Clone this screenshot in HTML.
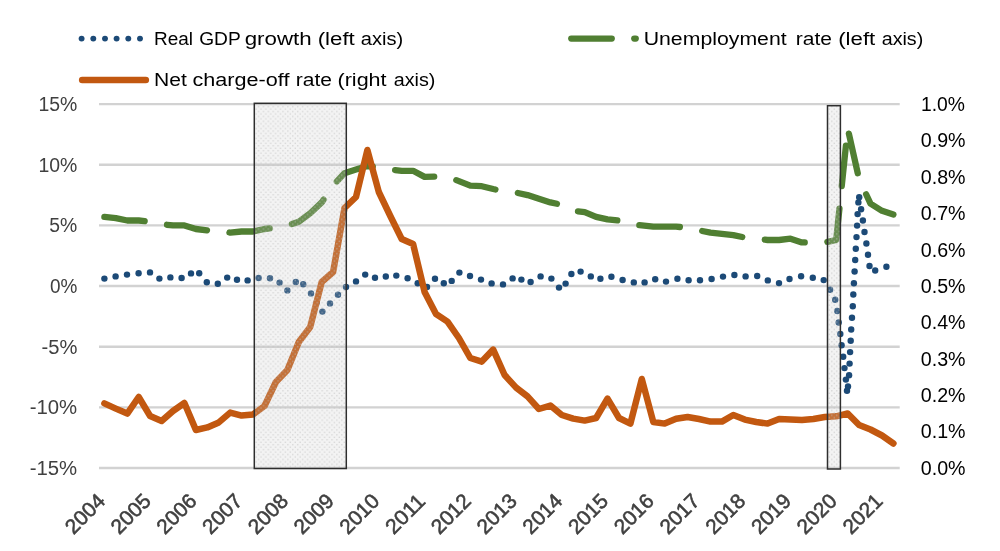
<!DOCTYPE html>
<html lang="en"><head><meta charset="utf-8"><title>Chart</title>
<style>html,body{margin:0;padding:0;background:#fff;}body{width:1000px;height:551px;overflow:hidden;}svg{display:block;}</style></head><body>
<svg width="1000" height="551" viewBox="0 0 1000 551">
<defs><pattern id="pat" width="4.9" height="4.9" patternUnits="userSpaceOnUse"><rect width="4.9" height="4.9" fill="#c8c8c8" fill-opacity="0.22"/><rect x="0.6" y="0.6" width="1.3" height="1.3" fill="#bcbcbc" fill-opacity="0.6"/><rect x="3.05" y="3.05" width="1.3" height="1.3" fill="#bcbcbc" fill-opacity="0.6"/></pattern></defs>
<rect width="1000" height="551" fill="#ffffff"/>
<line x1="99" x2="899.7" y1="104.1" y2="104.1" stroke="#d2d2d2" stroke-width="2.4"/>
<line x1="99" x2="899.7" y1="164.75" y2="164.75" stroke="#d2d2d2" stroke-width="2.4"/>
<line x1="99" x2="899.7" y1="225.4" y2="225.4" stroke="#d2d2d2" stroke-width="2.4"/>
<line x1="99" x2="899.7" y1="286.05" y2="286.05" stroke="#d2d2d2" stroke-width="2.4"/>
<line x1="99" x2="899.7" y1="346.7" y2="346.7" stroke="#d2d2d2" stroke-width="2.4"/>
<line x1="99" x2="899.7" y1="407.35" y2="407.35" stroke="#d2d2d2" stroke-width="2.4"/>
<line x1="99" x2="899.7" y1="468.0" y2="468.0" stroke="#d2d2d2" stroke-width="2.4"/>
<g fill="#1c4a77">
<circle cx="104.4" cy="278.6" r="3.2"/>
<circle cx="115.6" cy="276.4" r="3.2"/>
<circle cx="127" cy="274.6" r="3.2"/>
<circle cx="138.6" cy="273.2" r="3.2"/>
<circle cx="150" cy="272.4" r="3.2"/>
<circle cx="159.4" cy="278.6" r="3.2"/>
<circle cx="170.4" cy="277.4" r="3.2"/>
<circle cx="181.6" cy="278" r="3.2"/>
<circle cx="191" cy="273.4" r="3.2"/>
<circle cx="199.2" cy="273.2" r="3.2"/>
<circle cx="206.8" cy="282.2" r="3.2"/>
<circle cx="217.8" cy="283.8" r="3.2"/>
<circle cx="227.2" cy="277.6" r="3.2"/>
<circle cx="237" cy="279.8" r="3.2"/>
<circle cx="247.6" cy="280.4" r="3.2"/>
<circle cx="258.6" cy="278" r="3.2"/>
<circle cx="270" cy="278.2" r="3.2"/>
<circle cx="279.6" cy="282.6" r="3.2"/>
<circle cx="287.4" cy="290.4" r="3.2"/>
<circle cx="295.8" cy="282" r="3.2"/>
<circle cx="303.2" cy="284.2" r="3.2"/>
<circle cx="311" cy="293.4" r="3.2"/>
<circle cx="316.7" cy="302.5" r="3.2"/>
<circle cx="322.4" cy="311.6" r="3.2"/>
<circle cx="330" cy="303.4" r="3.2"/>
<circle cx="338" cy="294.7" r="3.2"/>
<circle cx="346" cy="287" r="3.2"/>
<circle cx="356" cy="281.4" r="3.2"/>
<circle cx="365.2" cy="274.6" r="3.2"/>
<circle cx="375" cy="277.8" r="3.2"/>
<circle cx="385.8" cy="276.5" r="3.2"/>
<circle cx="396.3" cy="275.6" r="3.2"/>
<circle cx="407.6" cy="278.3" r="3.2"/>
<circle cx="417.7" cy="283.2" r="3.2"/>
<circle cx="427" cy="287" r="3.2"/>
<circle cx="435" cy="278.8" r="3.2"/>
<circle cx="443.8" cy="283.3" r="3.2"/>
<circle cx="451.7" cy="280.9" r="3.2"/>
<circle cx="459.4" cy="272.6" r="3.2"/>
<circle cx="470" cy="276" r="3.2"/>
<circle cx="481" cy="279.6" r="3.2"/>
<circle cx="491.6" cy="283.4" r="3.2"/>
<circle cx="503" cy="284.4" r="3.2"/>
<circle cx="512.6" cy="278.4" r="3.2"/>
<circle cx="521.4" cy="279.6" r="3.2"/>
<circle cx="530.6" cy="282" r="3.2"/>
<circle cx="540.6" cy="276.4" r="3.2"/>
<circle cx="551.4" cy="278.6" r="3.2"/>
<circle cx="559" cy="287.6" r="3.2"/>
<circle cx="565.6" cy="283.6" r="3.2"/>
<circle cx="571.4" cy="274" r="3.2"/>
<circle cx="580.6" cy="271.6" r="3.2"/>
<circle cx="590.8" cy="276.4" r="3.2"/>
<circle cx="600.4" cy="278.7" r="3.2"/>
<circle cx="611.4" cy="276.8" r="3.2"/>
<circle cx="622.6" cy="280" r="3.2"/>
<circle cx="633.8" cy="282.4" r="3.2"/>
<circle cx="644.6" cy="282.4" r="3.2"/>
<circle cx="655.2" cy="279.2" r="3.2"/>
<circle cx="666" cy="281.6" r="3.2"/>
<circle cx="677.4" cy="278.8" r="3.2"/>
<circle cx="688.6" cy="280.2" r="3.2"/>
<circle cx="700" cy="280.2" r="3.2"/>
<circle cx="711.6" cy="279" r="3.2"/>
<circle cx="723" cy="276.6" r="3.2"/>
<circle cx="734.4" cy="275" r="3.2"/>
<circle cx="745.6" cy="276.4" r="3.2"/>
<circle cx="757.2" cy="276" r="3.2"/>
<circle cx="767.8" cy="280.4" r="3.2"/>
<circle cx="779" cy="283.1" r="3.2"/>
<circle cx="789.5" cy="279" r="3.2"/>
<circle cx="801.1" cy="276.3" r="3.2"/>
<circle cx="812.8" cy="277.7" r="3.2"/>
<circle cx="823.7" cy="280.1" r="3.2"/>
<circle cx="830.1" cy="289.7" r="3.2"/>
<circle cx="835.2" cy="299.8" r="3.2"/>
<circle cx="837.3" cy="311" r="3.2"/>
<circle cx="838.7" cy="322.5" r="3.2"/>
<circle cx="840.3" cy="334" r="3.2"/>
<circle cx="841.6" cy="345.2" r="3.2"/>
<circle cx="843.2" cy="356.7" r="3.2"/>
<circle cx="844.5" cy="368.1" r="3.2"/>
<circle cx="845.9" cy="379.6" r="3.2"/>
<circle cx="847" cy="390.8" r="3.2"/>
<circle cx="848" cy="386.5" r="3.2"/>
<circle cx="849.1" cy="375.3" r="3.2"/>
<circle cx="849.6" cy="363.6" r="3.2"/>
<circle cx="850.1" cy="352.1" r="3.2"/>
<circle cx="850.7" cy="340.7" r="3.2"/>
<circle cx="851.2" cy="329.5" r="3.2"/>
<circle cx="852" cy="317.7" r="3.2"/>
<circle cx="852.8" cy="306.2" r="3.2"/>
<circle cx="853.3" cy="294.5" r="3.2"/>
<circle cx="853.9" cy="283.3" r="3.2"/>
<circle cx="854.6" cy="271.5" r="3.2"/>
<circle cx="855.2" cy="260" r="3.2"/>
<circle cx="855.8" cy="248.8" r="3.2"/>
<circle cx="856.5" cy="237.1" r="3.2"/>
<circle cx="857.1" cy="225.6" r="3.2"/>
<circle cx="857.6" cy="214.1" r="3.2"/>
<circle cx="858.4" cy="202.4" r="3.2"/>
<circle cx="859.2" cy="197.3" r="3.2"/>
<circle cx="861.1" cy="209.3" r="3.2"/>
<circle cx="862.9" cy="220.5" r="3.2"/>
<circle cx="864.5" cy="232" r="3.2"/>
<circle cx="866.4" cy="243.5" r="3.2"/>
<circle cx="868" cy="254.7" r="3.2"/>
<circle cx="869.5" cy="266" r="3.2"/>
<circle cx="875.2" cy="270.5" r="3.2"/>
<circle cx="886.4" cy="266.7" r="3.2"/>
</g>
<polyline points="104.4,216.9 115.8,218.1 127.3,220.5 138.7,220.5 150.1,221.8 161.6,224.2 173.0,225.4 184.4,225.4 195.9,229.0 207.3,230.3 218.8,230.3 230.2,232.7 241.6,231.5 253.1,231.5 264.5,229.0 275.9,227.8 287.4,225.4 298.8,221.8 310.2,213.3 321.7,202.4 333.1,185.4 344.5,173.2 356.0,169.6 367.4,166.0 378.8,167.2 390.3,169.6 401.7,170.8 413.1,170.8 424.6,176.9 436.0,176.5 447.5,176.9 458.9,181.1 470.3,185.7 481.8,186.2 493.2,189.0 504.6,191.4 516.1,192.6 527.5,195.1 538.9,198.7 550.4,202.4 561.8,204.8 573.2,210.8 584.7,212.1 596.1,216.9 607.5,219.3 619.0,220.5 630.4,224.2 641.8,225.4 653.3,226.6 664.7,226.6 676.1,226.6 687.6,227.8 699.0,230.3 710.5,232.7 721.9,233.9 733.3,235.1 744.8,237.5 756.2,238.7 767.6,240.0 779.1,240.0 790.5,238.7 801.9,242.4 813.4,242.4 824.8,242.4 836.2,240.0 847.7,128.4 859.1,179.3 870.5,203.6 882.0,210.8 893.4,214.5" fill="none" stroke="#507f32" stroke-width="6.3" stroke-linecap="round" stroke-linejoin="round" stroke-dasharray="40.6 22.7"/>
<polyline points="104.4,403.4 115.8,408.6 127.3,413.6 138.7,397.0 150.1,416.0 161.6,421.0 173.0,411.0 184.4,403.0 195.9,430.0 207.3,427.4 218.8,422.4 230.2,412.6 241.6,415.6 253.1,414.4 264.5,406.0 275.9,382.0 287.4,370.0 298.8,342.0 310.2,327.0 321.7,282.0 333.1,272.0 344.5,208.0 356.0,197.0 367.4,150.0 378.8,192.0 390.3,216.0 401.7,239.0 413.1,244.0 424.6,292.0 436.0,314.0 447.5,321.6 458.9,338.0 470.3,358.0 481.8,361.6 493.2,349.6 504.6,375.0 516.1,387.6 527.5,396.4 538.9,409.0 550.4,405.6 561.8,415.0 573.2,418.6 584.7,420.6 596.1,418.0 607.5,398.6 619.0,418.0 630.4,423.6 641.8,379.0 653.3,422.0 664.7,423.6 676.1,418.8 687.6,417.0 699.0,419.0 710.5,421.6 721.9,421.6 733.3,415.0 744.8,419.6 756.2,422.0 767.6,423.6 779.1,419.0 790.5,419.4 801.9,420.0 813.4,419.0 824.8,417.0 836.2,416.3 847.7,413.5 859.1,425.0 870.5,429.5 882.0,435.5 893.4,443.5" fill="none" stroke="#c25810" stroke-width="6.5" stroke-linecap="round" stroke-linejoin="round"/>
<rect x="254.3" y="103.3" width="92.0" height="365.2" fill="url(#pat)" stroke="#2e2e2e" stroke-width="1.5"/>
<rect x="827.5" y="105.7" width="12.9" height="363.3" fill="url(#pat)" stroke="#2e2e2e" stroke-width="1.5"/>
<g fill="#1c4a77"><circle cx="81.6" cy="38.6" r="2.95"/><circle cx="93.3" cy="38.6" r="2.95"/><circle cx="105.0" cy="38.6" r="2.95"/><circle cx="116.6" cy="38.6" r="2.95"/><circle cx="128.3" cy="38.6" r="2.95"/><circle cx="140.0" cy="38.6" r="2.95"/></g>
<line x1="82.2" x2="145.8" y1="80" y2="80" stroke="#c25810" stroke-width="6.6" stroke-linecap="round"/>
<line x1="571.2" x2="611.8" y1="38.6" y2="38.6" stroke="#507f32" stroke-width="6.2" stroke-linecap="round"/>
<line x1="634.2" x2="635.8" y1="38.6" y2="38.6" stroke="#507f32" stroke-width="6.2" stroke-linecap="round"/>
<text x="154.0" y="45.2" font-family="Liberation Sans, Arial, sans-serif" font-size="19.1" fill="#000" text-anchor="start" textLength="39.0" lengthAdjust="spacingAndGlyphs">Real</text>
<text x="199.2" y="45.2" font-family="Liberation Sans, Arial, sans-serif" font-size="19.1" fill="#000" text-anchor="start" textLength="41.5" lengthAdjust="spacingAndGlyphs">GDP</text>
<text x="244.7" y="45.2" font-family="Liberation Sans, Arial, sans-serif" font-size="19.1" fill="#000" text-anchor="start" textLength="67.0" lengthAdjust="spacingAndGlyphs">growth</text>
<text x="317.7" y="45.2" font-family="Liberation Sans, Arial, sans-serif" font-size="19.1" fill="#000" text-anchor="start" textLength="37.1" lengthAdjust="spacingAndGlyphs">(left</text>
<text x="360.7" y="45.2" font-family="Liberation Sans, Arial, sans-serif" font-size="19.1" fill="#000" text-anchor="start" textLength="42.5" lengthAdjust="spacingAndGlyphs">axis)</text>
<text x="154.0" y="86.1" font-family="Liberation Sans, Arial, sans-serif" font-size="19.1" fill="#000" text-anchor="start" textLength="32.8" lengthAdjust="spacingAndGlyphs">Net</text>
<text x="192.5" y="86.1" font-family="Liberation Sans, Arial, sans-serif" font-size="19.1" fill="#000" text-anchor="start" textLength="96.9" lengthAdjust="spacingAndGlyphs">charge-off</text>
<text x="295.8" y="86.1" font-family="Liberation Sans, Arial, sans-serif" font-size="19.1" fill="#000" text-anchor="start" textLength="36.2" lengthAdjust="spacingAndGlyphs">rate</text>
<text x="337.5" y="86.1" font-family="Liberation Sans, Arial, sans-serif" font-size="19.1" fill="#000" text-anchor="start" textLength="49.1" lengthAdjust="spacingAndGlyphs">(right</text>
<text x="393.7" y="86.1" font-family="Liberation Sans, Arial, sans-serif" font-size="19.1" fill="#000" text-anchor="start" textLength="41.7" lengthAdjust="spacingAndGlyphs">axis)</text>
<text x="643.7" y="45.2" font-family="Liberation Sans, Arial, sans-serif" font-size="19.1" fill="#000" text-anchor="start" textLength="143.0" lengthAdjust="spacingAndGlyphs">Unemployment</text>
<text x="795.8" y="45.2" font-family="Liberation Sans, Arial, sans-serif" font-size="19.1" fill="#000" text-anchor="start" textLength="36.2" lengthAdjust="spacingAndGlyphs">rate</text>
<text x="838.2" y="45.2" font-family="Liberation Sans, Arial, sans-serif" font-size="19.1" fill="#000" text-anchor="start" textLength="37.1" lengthAdjust="spacingAndGlyphs">(left</text>
<text x="881.7" y="45.2" font-family="Liberation Sans, Arial, sans-serif" font-size="19.1" fill="#000" text-anchor="start" textLength="41.6" lengthAdjust="spacingAndGlyphs">axis)</text>
<text x="38.5" y="110.9" font-family="Liberation Sans, Arial, sans-serif" font-size="20.3" fill="#404040" text-anchor="start" textLength="38.9" lengthAdjust="spacingAndGlyphs">15%</text>
<text x="38.5" y="171.6" font-family="Liberation Sans, Arial, sans-serif" font-size="20.3" fill="#404040" text-anchor="start" textLength="38.9" lengthAdjust="spacingAndGlyphs">10%</text>
<text x="49.2" y="232.2" font-family="Liberation Sans, Arial, sans-serif" font-size="20.3" fill="#404040" text-anchor="start" textLength="28.0" lengthAdjust="spacingAndGlyphs">5%</text>
<text x="50.0" y="292.9" font-family="Liberation Sans, Arial, sans-serif" font-size="20.3" fill="#404040" text-anchor="start" textLength="27.4" lengthAdjust="spacingAndGlyphs">0%</text>
<text x="41.5" y="353.5" font-family="Liberation Sans, Arial, sans-serif" font-size="20.3" fill="#404040" text-anchor="start" textLength="35.9" lengthAdjust="spacingAndGlyphs">-5%</text>
<text x="29.7" y="414.2" font-family="Liberation Sans, Arial, sans-serif" font-size="20.3" fill="#404040" text-anchor="start" textLength="47.5" lengthAdjust="spacingAndGlyphs">-10%</text>
<text x="29.7" y="474.8" font-family="Liberation Sans, Arial, sans-serif" font-size="20.3" fill="#404040" text-anchor="start" textLength="47.5" lengthAdjust="spacingAndGlyphs">-15%</text>
<text x="920.8" y="474.8" font-family="Liberation Sans, Arial, sans-serif" font-size="20.3" fill="#000" text-anchor="start" textLength="44.8" lengthAdjust="spacingAndGlyphs">0.0%</text>
<text x="920.8" y="438.4" font-family="Liberation Sans, Arial, sans-serif" font-size="20.3" fill="#000" text-anchor="start" textLength="44.8" lengthAdjust="spacingAndGlyphs">0.1%</text>
<text x="920.8" y="402.0" font-family="Liberation Sans, Arial, sans-serif" font-size="20.3" fill="#000" text-anchor="start" textLength="44.8" lengthAdjust="spacingAndGlyphs">0.2%</text>
<text x="920.8" y="365.6" font-family="Liberation Sans, Arial, sans-serif" font-size="20.3" fill="#000" text-anchor="start" textLength="44.8" lengthAdjust="spacingAndGlyphs">0.3%</text>
<text x="920.8" y="329.2" font-family="Liberation Sans, Arial, sans-serif" font-size="20.3" fill="#000" text-anchor="start" textLength="44.8" lengthAdjust="spacingAndGlyphs">0.4%</text>
<text x="920.8" y="292.9" font-family="Liberation Sans, Arial, sans-serif" font-size="20.3" fill="#000" text-anchor="start" textLength="44.8" lengthAdjust="spacingAndGlyphs">0.5%</text>
<text x="920.8" y="256.5" font-family="Liberation Sans, Arial, sans-serif" font-size="20.3" fill="#000" text-anchor="start" textLength="44.8" lengthAdjust="spacingAndGlyphs">0.6%</text>
<text x="920.8" y="220.1" font-family="Liberation Sans, Arial, sans-serif" font-size="20.3" fill="#000" text-anchor="start" textLength="44.8" lengthAdjust="spacingAndGlyphs">0.7%</text>
<text x="920.8" y="183.7" font-family="Liberation Sans, Arial, sans-serif" font-size="20.3" fill="#000" text-anchor="start" textLength="44.8" lengthAdjust="spacingAndGlyphs">0.8%</text>
<text x="920.8" y="147.3" font-family="Liberation Sans, Arial, sans-serif" font-size="20.3" fill="#000" text-anchor="start" textLength="44.8" lengthAdjust="spacingAndGlyphs">0.9%</text>
<text x="921.0" y="110.9" font-family="Liberation Sans, Arial, sans-serif" font-size="20.3" fill="#000" text-anchor="start" textLength="44.0" lengthAdjust="spacingAndGlyphs">1.0%</text>
<text transform="translate(106.4,502.4) rotate(-45)" font-family="Liberation Sans, Arial, sans-serif" font-size="20.8" fill="#404040" stroke="#404040" stroke-width="0.55" text-anchor="end" textLength="46.5" lengthAdjust="spacingAndGlyphs">2004</text>
<text transform="translate(152.1,502.4) rotate(-45)" font-family="Liberation Sans, Arial, sans-serif" font-size="20.8" fill="#404040" stroke="#404040" stroke-width="0.55" text-anchor="end" textLength="46.5" lengthAdjust="spacingAndGlyphs">2005</text>
<text transform="translate(197.9,502.4) rotate(-45)" font-family="Liberation Sans, Arial, sans-serif" font-size="20.8" fill="#404040" stroke="#404040" stroke-width="0.55" text-anchor="end" textLength="46.5" lengthAdjust="spacingAndGlyphs">2006</text>
<text transform="translate(243.6,502.4) rotate(-45)" font-family="Liberation Sans, Arial, sans-serif" font-size="20.8" fill="#404040" stroke="#404040" stroke-width="0.55" text-anchor="end" textLength="46.5" lengthAdjust="spacingAndGlyphs">2007</text>
<text transform="translate(289.4,502.4) rotate(-45)" font-family="Liberation Sans, Arial, sans-serif" font-size="20.8" fill="#404040" stroke="#404040" stroke-width="0.55" text-anchor="end" textLength="46.5" lengthAdjust="spacingAndGlyphs">2008</text>
<text transform="translate(335.1,502.4) rotate(-45)" font-family="Liberation Sans, Arial, sans-serif" font-size="20.8" fill="#404040" stroke="#404040" stroke-width="0.55" text-anchor="end" textLength="46.5" lengthAdjust="spacingAndGlyphs">2009</text>
<text transform="translate(380.8,502.4) rotate(-45)" font-family="Liberation Sans, Arial, sans-serif" font-size="20.8" fill="#404040" stroke="#404040" stroke-width="0.55" text-anchor="end" textLength="46.5" lengthAdjust="spacingAndGlyphs">2010</text>
<text transform="translate(426.6,502.4) rotate(-45)" font-family="Liberation Sans, Arial, sans-serif" font-size="20.8" fill="#404040" stroke="#404040" stroke-width="0.55" text-anchor="end" textLength="46.5" lengthAdjust="spacingAndGlyphs">2011</text>
<text transform="translate(472.3,502.4) rotate(-45)" font-family="Liberation Sans, Arial, sans-serif" font-size="20.8" fill="#404040" stroke="#404040" stroke-width="0.55" text-anchor="end" textLength="46.5" lengthAdjust="spacingAndGlyphs">2012</text>
<text transform="translate(518.1,502.4) rotate(-45)" font-family="Liberation Sans, Arial, sans-serif" font-size="20.8" fill="#404040" stroke="#404040" stroke-width="0.55" text-anchor="end" textLength="46.5" lengthAdjust="spacingAndGlyphs">2013</text>
<text transform="translate(563.8,502.4) rotate(-45)" font-family="Liberation Sans, Arial, sans-serif" font-size="20.8" fill="#404040" stroke="#404040" stroke-width="0.55" text-anchor="end" textLength="46.5" lengthAdjust="spacingAndGlyphs">2014</text>
<text transform="translate(609.5,502.4) rotate(-45)" font-family="Liberation Sans, Arial, sans-serif" font-size="20.8" fill="#404040" stroke="#404040" stroke-width="0.55" text-anchor="end" textLength="46.5" lengthAdjust="spacingAndGlyphs">2015</text>
<text transform="translate(655.3,502.4) rotate(-45)" font-family="Liberation Sans, Arial, sans-serif" font-size="20.8" fill="#404040" stroke="#404040" stroke-width="0.55" text-anchor="end" textLength="46.5" lengthAdjust="spacingAndGlyphs">2016</text>
<text transform="translate(701.0,502.4) rotate(-45)" font-family="Liberation Sans, Arial, sans-serif" font-size="20.8" fill="#404040" stroke="#404040" stroke-width="0.55" text-anchor="end" textLength="46.5" lengthAdjust="spacingAndGlyphs">2017</text>
<text transform="translate(746.8,502.4) rotate(-45)" font-family="Liberation Sans, Arial, sans-serif" font-size="20.8" fill="#404040" stroke="#404040" stroke-width="0.55" text-anchor="end" textLength="46.5" lengthAdjust="spacingAndGlyphs">2018</text>
<text transform="translate(792.5,502.4) rotate(-45)" font-family="Liberation Sans, Arial, sans-serif" font-size="20.8" fill="#404040" stroke="#404040" stroke-width="0.55" text-anchor="end" textLength="46.5" lengthAdjust="spacingAndGlyphs">2019</text>
<text transform="translate(838.2,502.4) rotate(-45)" font-family="Liberation Sans, Arial, sans-serif" font-size="20.8" fill="#404040" stroke="#404040" stroke-width="0.55" text-anchor="end" textLength="46.5" lengthAdjust="spacingAndGlyphs">2020</text>
<text transform="translate(884.0,502.4) rotate(-45)" font-family="Liberation Sans, Arial, sans-serif" font-size="20.8" fill="#404040" stroke="#404040" stroke-width="0.55" text-anchor="end" textLength="46.5" lengthAdjust="spacingAndGlyphs">2021</text>
</svg></body></html>
